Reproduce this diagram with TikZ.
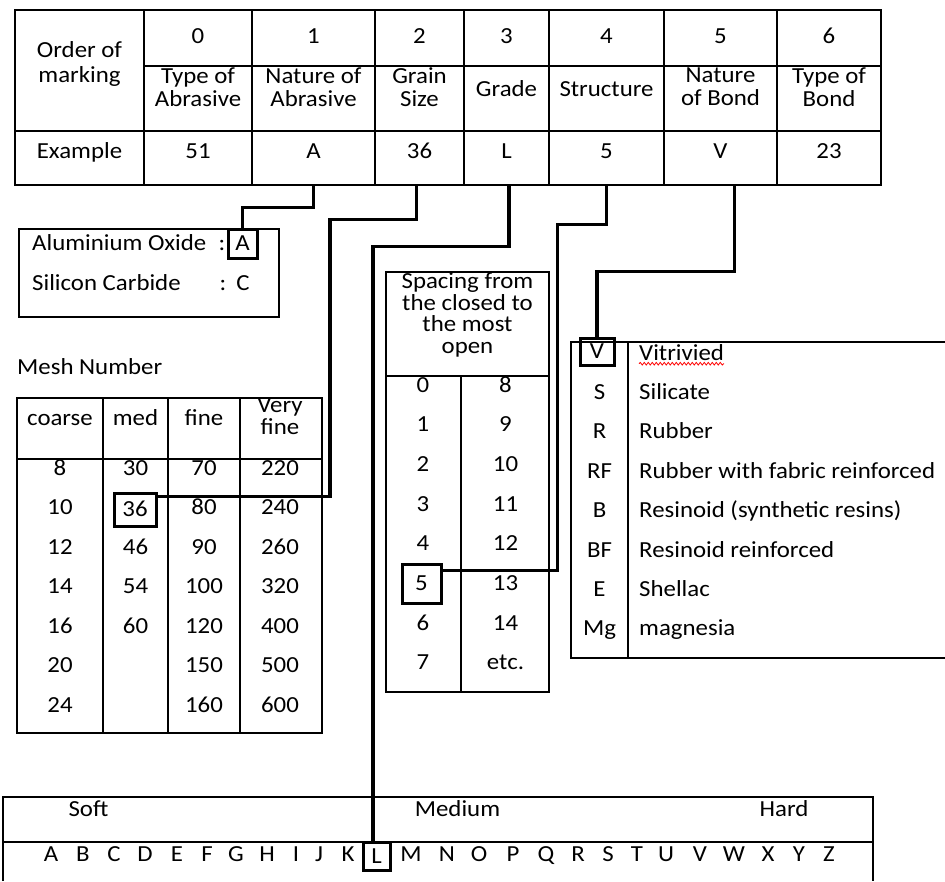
\documentclass[tikz,border=0pt]{standalone}
\usepackage{fontspec}
\setmainfont{Carlito}[FakeStretch=1.08]
\usetikzlibrary{decorations.pathmorphing}

\begin{document}
\begin{tikzpicture}[
  x=1pt, y=-1pt,
  every node/.style={inner sep=0pt, font=\fontsize{23}{23}\selectfont},
  cell/.style={text height=16pt, text depth=2pt},
  multi/.style={align=center},
  exrow/.style={anchor=base, text height=16pt, text depth=27pt},
  selbox/.style={draw, line width=3pt, cell},
  grid/.style={line width=1.4pt},
  link/.style={line width=3.4pt, line join=miter},
  wavy/.style={red, line width=0.8pt, decorate, decoration={snake, amplitude=1.3pt, segment length=4pt}}
]
\useasboundingbox (0,0) rectangle (945,881);

\draw[grid] (15,10) rectangle (881,185);
\draw[grid] (144,66) -- (881,66);
\draw[grid] (15,131) -- (881,131);
\foreach \x in {144,252,375,464,549,664,777}
  \draw[grid] (\x,10) -- (\x,185);

\node[multi, font=\fontsize{23}{25}\selectfont] (ord) at (79.5,64) {Order of\\marking};
\foreach \n/\x in {0/198,1/313.5,2/419.5,3/506.5,4/606.5,5/720.5,6/829}
  \node[cell] (n\n) at (\x,36.7) {\n};
\node[multi] (typ) at (198,87) {Type of\\Abrasive};
\node[multi] (nat) at (313.5,87) {Nature of\\Abrasive};
\node[multi] (grs) at (419.5,87) {Grain\\Size};
\node[cell] (grd) at (506.5,89) {Grade};
\node[cell] (str) at (606.5,89) {Structure};
\node[multi] (nbd) at (720.5,87) {Nature\\of Bond};
\node[multi] (tbd) at (829,87) {Type of\\Bond};

\node[exrow] (exm) at (79.5,158) {Example};
\node[exrow] (ex51) at (198,158) {51};
\node[exrow] (exA) at (313.5,158) {A};
\node[exrow] (ex36) at (419.5,158) {36};
\node[exrow] (exL) at (506.5,158) {L};
\node[exrow] (ex5) at (606.5,158) {5};
\node[exrow] (exV) at (720.5,158) {V};
\node[exrow] (ex23) at (829,158) {23};

\draw[grid] (19,229) rectangle (279,317);
\node[cell, anchor=west] (alox) at (32,243) {Aluminium Oxide};
\node[cell] (colA) at (222,243) {:};
\node[selbox, minimum width=29pt, minimum height=29pt] (selA) at (242.5,243.5) {A};
\node[cell, anchor=west] (sic) at (32,283) {Silicon Carbide};
\node[cell] (colC) at (223,283) {:};
\node[cell] (selC) at (243,283) {C};

\node[cell, anchor=west] (mesh) at (17,367) {Mesh Number};
\draw[grid] (17,398) rectangle (322,733);
\draw[grid] (17,459) -- (322,459);
\foreach \x in {103,168,240}
  \draw[grid] (\x,398) -- (\x,733);
\node[cell] (hc) at (60,418) {coarse};
\node[cell] (hm) at (135.5,418) {med};
\node[cell] (hf) at (204,418) {fine};
\node[multi, font=\fontsize{23}{22}\selectfont] (hv) at (280,416) {Very\\fine};
\foreach \v [count=\k from 0] in {8,10,12,14,16,20,24}
  \node[cell] (c\k) at (60,{468+39.5*\k}) {\v};
\foreach \v/\k in {30/0,46/2,54/3,60/4}
  \node[cell] (m\k) at (135.5,{468+39.5*\k}) {\v};
\node[selbox, minimum width=42pt, minimum height=33pt] (sel36) at (135,509.5) {36};
\foreach \v [count=\k from 0] in {70,80,90,100,120,150,160}
  \node[cell] (f\k) at (204,{468+39.5*\k}) {\v};
\foreach \v [count=\k from 0] in {220,240,260,320,400,500,600}
  \node[cell] (vf\k) at (280,{468+39.5*\k}) {\v};

\draw[grid] (386,272) rectangle (549,692);
\draw[grid] (386,376) -- (549,376);
\draw[grid] (461,376) -- (461,692);
\node[multi, font=\fontsize{23}{21.7}\selectfont] (spc) at (467.5,315) {Spacing from\\the closed to\\the most\\open};
\foreach \v in {0,1,2,3,4,6,7}
  \node[cell] (s\v) at (423,{385+39.7*\v}) {\v};
\node[selbox, minimum width=39pt, minimum height=39pt] (sel5) at (421.5,583.5) {5};
\foreach \v [count=\k from 0] in {8,9,10,11,12,13,14,etc.}
  \node[cell] (t\k) at (505.5,{385+39.7*\k}) {\v};

\draw[grid] (945,342) -- (571,342) -- (571,658) -- (945,658);
\draw[grid] (628,342) -- (628,658);
\node[selbox, minimum width=34pt, minimum height=27pt] (selV) at (597,351.5) {V};
\node[cell, anchor=west] (b0) at (639,353) {Vitrivied};
\draw[wavy] ([yshift=-1.5pt]b0.south west) -- ([yshift=-1.5pt]b0.south east);
\foreach \a/\d [count=\k] in {S/Silicate,R/Rubber,RF/Rubber with fabric reinforced,B/Resinoid (synthetic resins),BF/Resinoid reinforced,E/Shellac,Mg/magnesia} {
  \node[cell] (a\k) at (599.5,{353+39.4*\k}) {\a};
  \node[cell, anchor=west] (b\k) at (639,{353+39.4*\k}) {\d};
}

\draw[grid] (3,881) -- (3,797) -- (873,797) -- (873,881);
\draw[grid] (3,842) -- (873,842);
\node[cell] (soft) at (88.5,809) {Soft};
\node[cell] (medium) at (457.5,809) {Medium};
\node[cell] (hard) at (784,809) {Hard};
\foreach \l/\x in {A/51,B/83,C/114,D/145,E/177,F/207,G/236,H/267,I/296,J/319,K/348,M/411,N/447,O/479,P/513,Q/546,R/578,S/608,T/637,U/666,V/700,W/734,X/768,Y/799,Z/829}
  \node[cell] (g\l) at (\x,854) {\l};
\node[selbox, minimum width=27pt, minimum height=28pt] (selL) at (376.5,856) {L};

\draw[link] (exA.south) -- ++(0,22) -| (selA.north);
\draw[link] ([xshift=-3pt]ex36.south) -- ++(0,34) -- ++(-86.5,0) |- ([yshift=13pt]sel36.east);
\draw[link] ([xshift=2.5pt]exL.south) -- ++(0,61) -| ([xshift=-3.5pt]selL.north);
\draw[link] (ex5.south) -- ++(0,39) -- ++(-49,0) |- ([yshift=13pt]sel5.east);
\draw[link] ([xshift=14pt]exV.south) -- ++(0,86) -| (selV.north);
\end{tikzpicture}
\end{document}
